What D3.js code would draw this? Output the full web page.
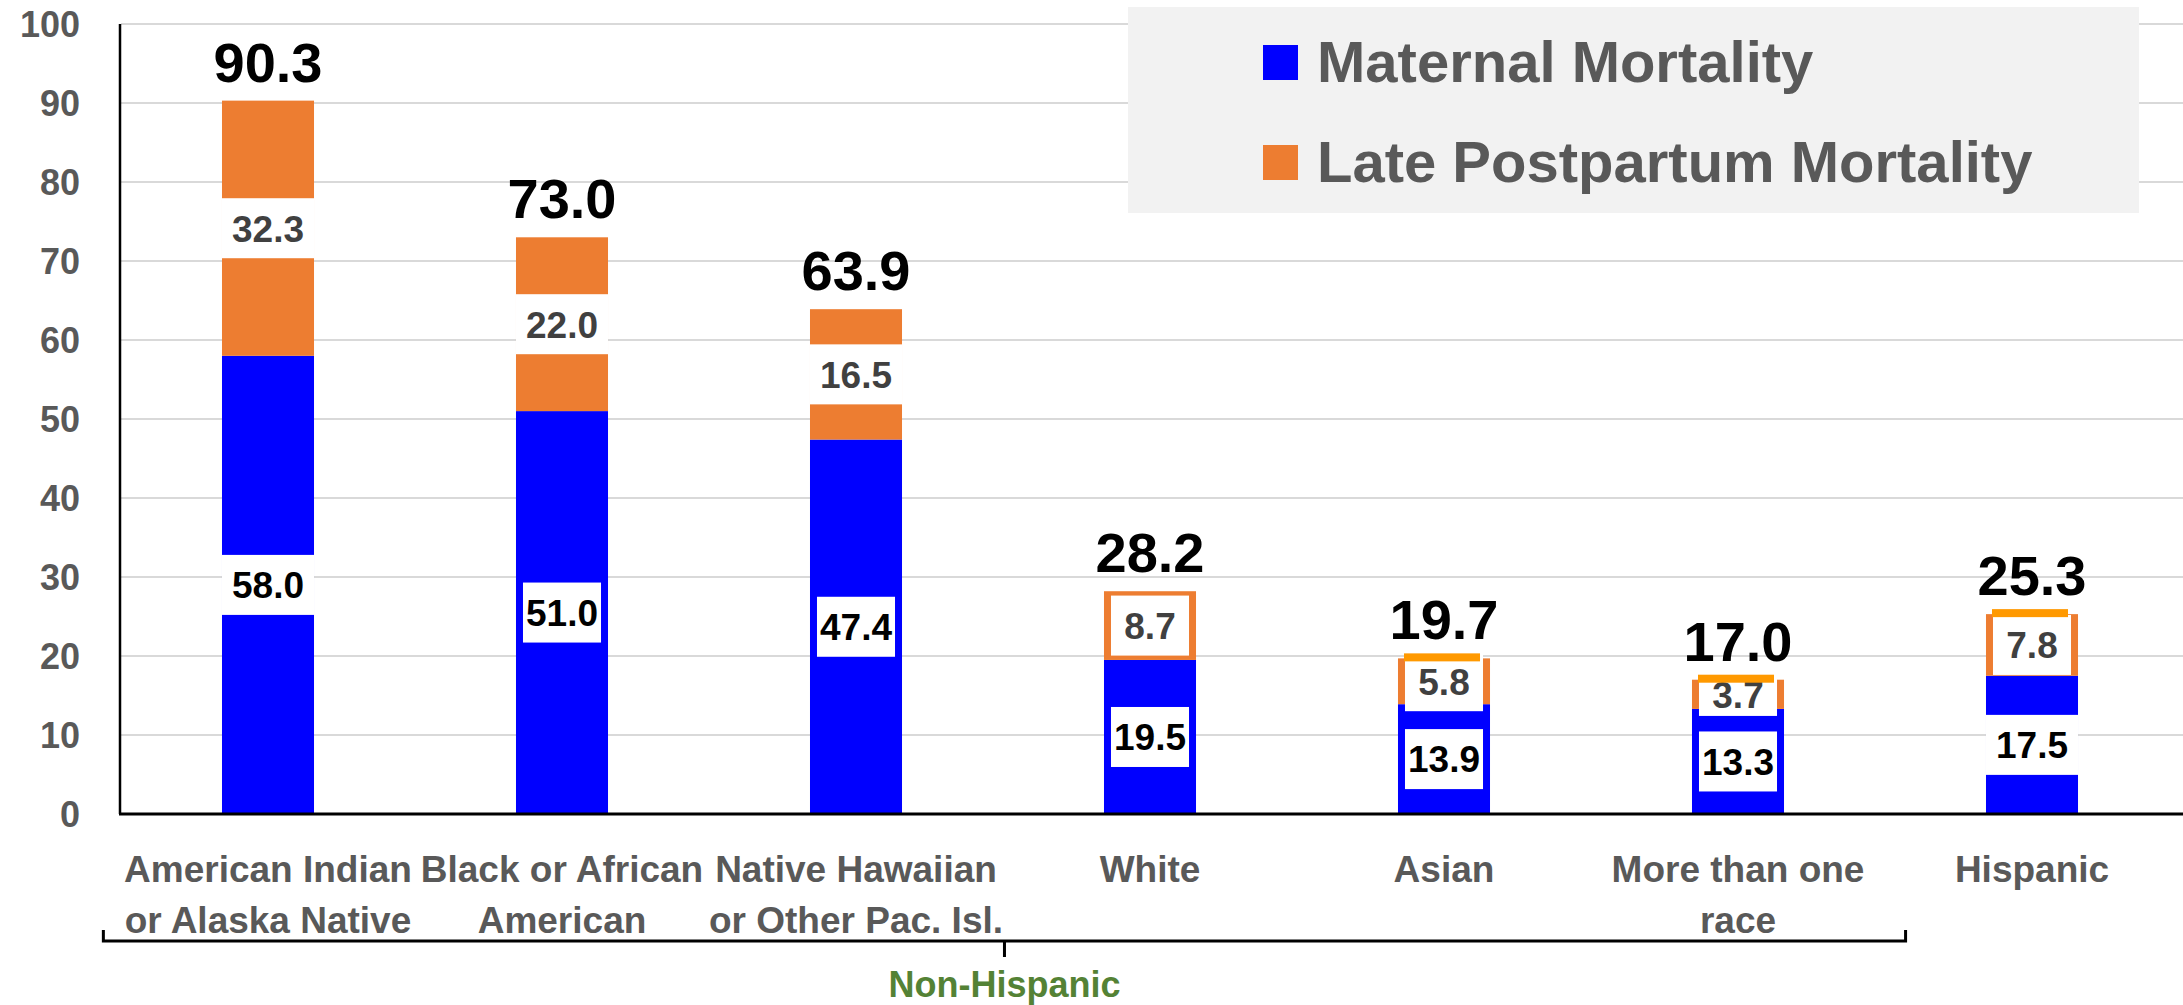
<!DOCTYPE html>
<html lang="en">
<head>
    <meta charset="UTF-8">
    <title>Maternal and Late Postpartum Mortality</title>
    <script src="https://d3js.org/d3.v7.min.js"></script>
    <style>
        body {
            margin: 0;
            padding: 0;
            background-color: white;
        }
        svg {
            display: block;
            font-family: "Liberation Sans", Arial, sans-serif;
            font-weight: bold;
        }
        .grid line {
            stroke: #d9d9d9;
            stroke-width: 2;
        }
        .tick-label {
            fill: #595959;
            font-size: 36px;
        }
        .cat-label {
            fill: #595959;
            font-size: 37px;
        }
    </style>
</head>
<body>
    <svg width="2183" height="1005"></svg>

    <script>
        // data
        const categories = [
            ["American Indian", "or Alaska Native"],
            ["Black or African", "American"],
            ["Native Hawaiian", "or Other Pac. Isl."],
            ["White"],
            ["Asian"],
            ["More than one", "race"],
            ["Hispanic"]
        ];
        const maternal = [58.0, 51.0, 47.4, 19.5, 13.9, 13.3, 17.5];
        const latePostpartum = [32.3, 22.0, 16.5, 8.7, 5.8, 3.7, 7.8];
        const totals = [90.3, 73.0, 63.9, 28.2, 19.7, 17.0, 25.3];
        const seriesNames = ["Maternal Mortality", "Late Postpartum Mortality"];
        const yTicks = [0, 10, 20, 30, 40, 50, 60, 70, 80, 90, 100];
        const groupLabel = "Non-Hispanic";
        const groupRange = [0, 5];   // categories under the bracket

        const colors = ["#0000ff", "#ed7d31"];
        const labelColors = ["#000000", "#404040"];

        const svg = d3.select("svg");
        const width = +svg.attr("width");

        const rows = categories.map(function(c, i) {
            return { idx: i, maternal: maternal[i], late: latePostpartum[i] };
        });

        const x = d3.scaleBand()
            .domain(d3.range(categories.length))
            .range([121, 2179])
            .paddingInner(0.687)
            .paddingOuter(0.3435);

        const y = d3.scaleLinear()
            .domain([0, 100])
            .range([814, 24]);

        const bw = x.bandwidth();
        const cx = function(i) { return x(i) + bw / 2; };

        // gridlines
        svg.append("g")
            .attr("class", "grid")
            .selectAll("line")
            .data(yTicks.filter(function(d) { return d > 0; }))
            .enter()
            .append("line")
            .attr("x1", 121)
            .attr("x2", width)
            .attr("y1", function(d) { return y(d); })
            .attr("y2", function(d) { return y(d); });

        // y tick labels
        svg.selectAll(".tick-label")
            .data(yTicks)
            .enter()
            .append("text")
            .attr("class", "tick-label")
            .attr("x", 80)
            .attr("y", function(d) { return y(d); })
            .attr("dy", "0.36em")
            .attr("text-anchor", "end")
            .text(function(d) { return d; });

        // legend box (sits over gridlines)
        svg.append("rect")
            .attr("x", 1128)
            .attr("y", 7)
            .attr("width", 1011)
            .attr("height", 206)
            .attr("fill", "#f2f2f2");

        seriesNames.forEach(function(name, k) {
            svg.append("rect")
                .attr("x", 1263)
                .attr("y", 45 + k * 100)
                .attr("width", 35)
                .attr("height", 35)
                .attr("fill", colors[k]);
            svg.append("text")
                .attr("x", 1317)
                .attr("y", 82 + k * 100)
                .attr("fill", "#595959")
                .style("font-size", "58px")
                .text(name);
        });

        // stacked bars
        const stacked = d3.stack().keys(["maternal", "late"])(rows);

        const layers = svg.selectAll(".layer")
            .data(stacked)
            .enter()
            .append("g")
            .attr("class", "layer")
            .attr("fill", function(d, k) { return colors[k]; });

        layers.selectAll("rect")
            .data(function(d) { return d; })
            .enter()
            .append("rect")
            .attr("x", function(d) { return x(d.data.idx); })
            .attr("y", function(d) { return y(d[1]); })
            .attr("width", bw)
            .attr("height", function(d) { return y(d[0]) - y(d[1]); });

        // segment labels in white boxes
        stacked.forEach(function(layer, k) {
            layer.forEach(function(d) {
                const i = d.data.idx;
                const v = k === 0 ? d.data.maternal : d.data.late;
                const segH = y(d[0]) - y(d[1]);
                const mid = (y(d[0]) + y(d[1])) / 2;
                // Excel-style label boxes: some span the bar, some leave a coloured frame
                const framed = (k === 0 && i >= 1 && i <= 5) || (k === 1 && i >= 3);
                const inset = framed ? 7 : 0;
                const boxH = framed ? Math.min(60, segH + 14) : 60;
                const boxW = bw - 2 * inset;

                svg.append("rect")
                    .attr("x", x(i) + inset)
                    .attr("y", mid - boxH / 2)
                    .attr("width", boxW)
                    .attr("height", boxH)
                    .attr("fill", "white");

                svg.append("text")
                    .attr("x", cx(i))
                    .attr("y", mid)
                    .attr("dy", "0.36em")
                    .attr("text-anchor", "middle")
                    .attr("fill", labelColors[k])
                    .style("font-size", "37px")
                    .text(d3.format(".1f")(v));
            });
        });

        // thin highlight on top of the small bars
        svg.selectAll(".top-line")
            .data(rows.filter(function(d) { return d.idx >= 4; }))
            .enter()
            .append("rect")
            .attr("class", "top-line")
            .attr("x", function(d) { return x(d.idx) + 6; })
            .attr("y", function(d) { return y(totals[d.idx]) - 5; })
            .attr("width", bw - 16)
            .attr("height", 8)
            .attr("fill", "#ff9900");

        // totals above bars
        svg.selectAll(".total-label")
            .data(rows)
            .enter()
            .append("text")
            .attr("class", "total-label")
            .attr("x", function(d) { return cx(d.idx); })
            .attr("y", function(d) { return y(totals[d.idx]) - 19; })
            .attr("text-anchor", "middle")
            .attr("fill", "black")
            .style("font-size", "56px")
            .text(function(d) { return d3.format(".1f")(totals[d.idx]); });

        // axes
        svg.append("line")
            .attr("x1", 120).attr("x2", 120)
            .attr("y1", 24).attr("y2", y(0))
            .attr("stroke", "black")
            .attr("stroke-width", 2.5);

        svg.append("line")
            .attr("x1", 119).attr("x2", width)
            .attr("y1", y(0)).attr("y2", y(0))
            .attr("stroke", "black")
            .attr("stroke-width", 3);

        // category labels
        categories.forEach(function(lines, i) {
            lines.forEach(function(line, j) {
                svg.append("text")
                    .attr("class", "cat-label")
                    .attr("x", cx(i))
                    .attr("y", 882 + j * 51)
                    .attr("text-anchor", "middle")
                    .text(line);
            });
        });

        // bracket under the non-hispanic groups
        const step = x.step();
        const bx0 = cx(groupRange[0]) - 0.56 * step;
        const bx1 = cx(groupRange[1]) + 0.57 * step;
        const bMid = (bx0 + bx1) / 2;
        const by = 941;

        svg.append("path")
            .attr("d", "M" + bx0 + "," + (by - 11) + " L" + bx0 + "," + by +
                       " L" + bx1 + "," + by + " L" + bx1 + "," + (by - 11) +
                       " M" + bMid + "," + by + " L" + bMid + "," + (by + 16))
            .attr("fill", "none")
            .attr("stroke", "black")
            .attr("stroke-width", 3);

        svg.append("text")
            .attr("x", bMid)
            .attr("y", 997)
            .attr("text-anchor", "middle")
            .attr("fill", "#548235")
            .style("font-size", "36px")
            .text(groupLabel);
    </script>
</body>
</html>
